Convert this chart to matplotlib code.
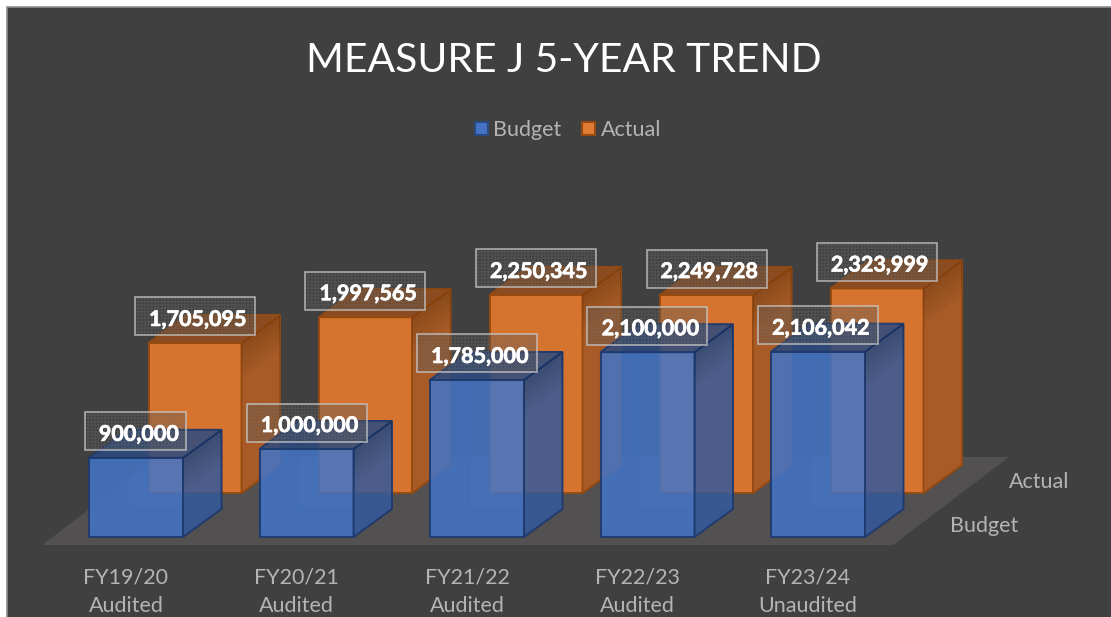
import matplotlib
matplotlib.use('Agg')
import matplotlib.pyplot as plt
import matplotlib.patheffects as pe
from matplotlib.patches import Polygon, Rectangle, Patch

plt.rcParams['font.family'] = ['Lato', 'DejaVu Sans']

categories = ['FY19/20\nAudited', 'FY20/21\nAudited', 'FY21/22\nAudited', 'FY22/23\nAudited', 'FY23/24\nUnaudited']
budget = [900000, 1000000, 1785000, 2100000, 2106042]
actual = [1705095, 1997565, 2250345, 2249728, 2323999]
series_names = ['Budget', 'Actual']

W, H = 1111, 617
# scale of the picture: pixels per category and per dollar
PX_X = 170.5
PX_Y = 88 / 1e6
X0 = 89    # left edge of first budget bar
Y0 = 537   # baseline of the budget row

fig = plt.figure(figsize=(W / 100, H / 100), dpi=100, facecolor='white')
fig.add_artist(Rectangle((6.5 / W, -0.1), 1.2, 1.1 - 6.5 / H, transform=fig.transFigure,
                         fc='#404040', ec='#8e8e8e', lw=1.2, zorder=-1))
ax = fig.add_axes([0, 0, 1, 1])
ax.set_xlim(-X0 / PX_X, (W - X0) / PX_X)
ax.set_ylim((Y0 - H) / PX_Y, Y0 / PX_Y)
ax.axis('off')


def xu(px):
    return px / PX_X


def yu(px):
    return px / PX_Y


def bar3d(i, val, xoff, yoff, width, front, side, top, edge, alpha, z):
    x1 = i + xu(xoff)
    x2 = x1 + xu(width)
    y1 = yu(yoff)
    y2 = y1 + val
    dx = xu(38.5)
    dy = yu(28)
    faces = [
        ([(x1, y1), (x2, y1), (x2 + dx, y1 + dy), (x1 + dx, y1 + dy)], side),     # floor
        ([(x1 + dx, y1 + dy), (x2 + dx, y1 + dy), (x2 + dx, y2 + dy), (x1 + dx, y2 + dy)], front),  # back
        ([(x1, y1), (x1 + dx, y1 + dy), (x1 + dx, y2 + dy), (x1, y2)], side),     # left
        ([(x1, y1), (x2, y1), (x2, y2), (x1, y2)], front),
        ([(x2, y1), (x2 + dx, y1 + dy), (x2 + dx, y2 + dy), (x2, y2)], side),
        ([(x1, y2), (x2, y2), (x2 + dx, y2 + dy), (x1 + dx, y2 + dy)], top),
    ]
    for n, (pts, col) in enumerate(faces):
        a = alpha if n >= 3 else 0.10
        ax.add_patch(Polygon(pts, closed=True, fc=col, ec='none', alpha=a, zorder=z))
        ax.add_patch(Polygon(pts, closed=True, fc='none', ec=edge, lw=1.4,
                             alpha=0.95 if n >= 3 else 0.15, zorder=z))
    # side face gets darker toward the top
    for k in range(1, 6):
        s = yu(k * 7)
        ax.add_patch(Polygon([(x2, y2 - s), (x2 + dx, y2 + dy - s), (x2 + dx, y2 + dy), (x2, y2)],
                             closed=True, fc='#000000', ec='none', alpha=0.03, zorder=z))


def value_box(i, val, xoff, yoff, gap, fudge):
    label = f'{val:,}'
    w = 120 if len(label) > 7 else 101
    h = 38
    cx = i + xu(xoff + 47 + fudge)
    y = val + yu(yoff + gap)
    box = (cx - xu(w / 2), y)
    ax.add_patch(Rectangle(box, xu(w), yu(h), fc='#404040', ec='none', alpha=0.22, zorder=20))
    ax.add_patch(Rectangle(box, xu(w), yu(h), fc='none', ec='#707070', hatch='+++++', lw=0,
                           alpha=0.35, zorder=21))
    ax.add_patch(Rectangle(box, xu(w), yu(h), fc='none', ec='#c8c8c8', lw=1.1, alpha=0.85, zorder=22))
    ax.text(cx + xu(2.5), y + yu(h / 2 - 3), label, color='white', fontsize=15.5, fontweight='bold',
            ha='center', va='center', zorder=23,
            path_effects=[pe.withStroke(linewidth=0.5, foreground='white')])


# floor
ax.add_patch(Polygon([(xu(42 - X0), yu(Y0 - 545)), (xu(893 - X0), yu(Y0 - 545)),
                      (xu(1009 - X0), yu(Y0 - 457)), (xu(158 - X0), yu(Y0 - 457))],
                     closed=True, fc='#525050', ec='none', zorder=1))

# back row, then front row (front row is see-through)
for i, v in enumerate(actual):
    bar3d(i, v, 59.5, 44, 93, '#D6742F', '#A85B26', '#8A4C20', '#964A10', 1.0, 5 + i)
for i, v in enumerate(budget):
    bar3d(i, v, 0, 0, 94, '#4375C8', '#34599C', '#2C4A80', '#1F3A6E', 0.84, 10 + i)

for i, v in enumerate(actual):
    value_box(i, v, 60, 44, 7.5, -1)
for i, v in enumerate(budget):
    value_box(i, v, 0, 0, 7.5, 0)

# category labels
for i, c in enumerate(categories):
    ax.text(i + xu(37), yu(Y0 - 591.5), c, color='#B4B4B4', fontsize=15.5, ha='center', va='center',
            linespacing=1.5, zorder=30)

# depth axis labels
ax.text(xu(1009 - X0), yu(Y0 - 481.5), series_names[1], color='#B4B4B4', fontsize=15.5, ha='left', va='center')
ax.text(xu(950 - X0), yu(Y0 - 525.5), series_names[0], color='#B4B4B4', fontsize=15.5, ha='left', va='center')

fig.text(563.5 / W, 1 - 60.5 / H, 'MEASURE J 5-YEAR TREND', color='white', fontsize=29.3, ha='center', va='center')

handles = [Patch(fc='#4472C4', ec='#2A4A82', lw=1.5), Patch(fc='#E07B34', ec='#964A10', lw=1.5)]
leg = ax.legend(handles, series_names, loc='center', bbox_to_anchor=(568 / W, 1 - 130 / H),
                bbox_transform=fig.transFigure, ncol=2, frameon=False, fontsize=15.5,
                handlelength=0.6, handleheight=0.6, handletextpad=0.25, columnspacing=0.95)
for t in leg.get_texts():
    t.set_color('#B4B4B4')

fig.savefig('out.png', dpi=100, facecolor=fig.get_facecolor())
